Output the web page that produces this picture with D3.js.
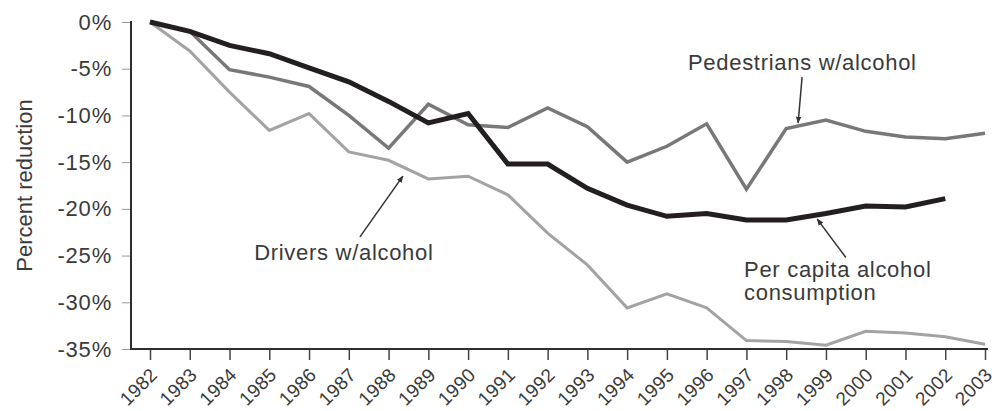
<!DOCTYPE html>
<html>
<head>
<meta charset="utf-8">
<script src="https://cdn.jsdelivr.net/npm/d3@7"></script>
<style>
  body { margin: 0; background: #fff; }
  svg text { font-family: "Liberation Sans", Arial, sans-serif; fill: #3a3a3a; }
</style>
</head>
<body>
<svg id="chart" width="998" height="411"></svg>
<script>
const years = d3.range(1982, 2004);
const yTicks = [0, -5, -10, -15, -20, -25, -30, -35];

const perCapita = [0, -1.0, -2.5, -3.4, -4.9, -6.4, -8.5, -10.8, -9.8, -15.2, -15.2,
  -17.8, -19.6, -20.8, -20.5, -21.2, -21.2, -20.5, -19.7, -19.8, -18.9];
const pedestrians = [0, -1.0, -5.1, -5.9, -6.9, -10.0, -13.5, -8.8, -11.0, -11.3, -9.2,
  -11.2, -15.0, -13.3, -10.9, -17.9, -11.4, -10.5, -11.7, -12.3, -12.5, -11.9];
const drivers = [0, -3.1, -7.5, -11.6, -9.8, -13.9, -14.8, -16.8, -16.5, -18.5, -22.6,
  -26.0, -30.6, -29.1, -30.6, -34.1, -34.2, -34.6, -33.1, -33.3, -33.7, -34.5];

const series = [
  { name: 'Drivers w/alcohol', values: drivers, color: '#a3a3a3', width: 3 },
  { name: 'Pedestrians w/alcohol', values: pedestrians, color: '#787878', width: 3.5 },
  { name: 'Per capita alcohol consumption', values: perCapita, color: '#231f20', width: 5 }
];

// annotation text + arrow, in data space (year, percent)
const notes = [
  { lines: ['Pedestrians w/alcohol'], at: [1995.53, -5.1], from: [1998.4, -5.9], to: [1998.3, -10.8] },
  { lines: ['Drivers w/alcohol'], at: [1984.62, -25.5], from: [1987.28, -23.0], to: [1988.36, -16.5] },
  { lines: ['Per capita alcohol', 'consumption'], at: [1996.94, -27.3], from: [1999.5, -25.2], to: [1998.78, -21.1] }
];

const svg = d3.select('#chart');
const margin = { top: 22, right: 13, bottom: 62, left: 131 };
const width = 998, height = 411;

const x = d3.scaleLinear().domain([1982, 2003]).range([150, 985]);
const y = d3.scaleLinear().domain([-35, 0]).range([height - margin.bottom, margin.top]);

svg.append('defs').append('marker')
  .attr('id', 'arrow')
  .attr('viewBox', '0 0 10 10')
  .attr('refX', 9).attr('refY', 5)
  .attr('markerWidth', 7).attr('markerHeight', 7)
  .attr('markerUnits', 'userSpaceOnUse')
  .attr('orient', 'auto')
  .append('path')
  .attr('d', 'M0,1 L10,5 L0,9 Z')
  .attr('fill', '#333');

// y axis
const yAxis = svg.append('g')
  .attr('transform', `translate(${margin.left},0)`)
  .call(d3.axisLeft(y).tickValues(yTicks).tickSize(9).tickPadding(10).tickFormat(d => d + '%'))
  .call(g => g.select('.domain').remove());
yAxis.selectAll('.tick line').attr('stroke', '#999').attr('stroke-width', 1);
yAxis.selectAll('.tick text')
  .attr('font-size', 22).attr('letter-spacing', '0.8px').attr('fill', '#3a3a3a')
  .style('font-family', '"Liberation Sans", Arial, sans-serif');
yAxis.append('line')
  .attr('y1', margin.top - 1).attr('y2', height - margin.bottom + 1)
  .attr('stroke', '#2e2e2e').attr('stroke-width', 2);

// x axis
const xAxis = svg.append('g')
  .attr('transform', `translate(0,${height - margin.bottom})`)
  .call(d3.axisBottom(x).tickValues(years).tickSize(11).tickFormat(d3.format('d')))
  .call(g => g.select('.domain').remove());
xAxis.selectAll('.tick line').attr('stroke', '#444').attr('stroke-width', 1.5);
xAxis.selectAll('.tick text')
  .attr('font-size', 19).attr('letter-spacing', '0.3px').attr('fill', '#3a3a3a')
  .style('font-family', '"Liberation Sans", Arial, sans-serif')
  .attr('text-anchor', 'end')
  .attr('dy', null).attr('y', 0)
  .attr('transform', 'translate(8,27) rotate(-45)');
xAxis.append('line')
  .attr('x1', margin.left).attr('x2', 988)
  .attr('stroke', '#2e2e2e').attr('stroke-width', 2);

// y label
svg.append('text')
  .attr('transform', `translate(32,${(margin.top + height - margin.bottom) / 2}) rotate(-90)`)
  .attr('text-anchor', 'middle')
  .attr('font-size', 22)
  .text('Percent reduction');

// lines
const line = d3.line()
  .x((d, i) => x(years[i]))
  .y(d => y(d));

svg.append('g')
  .selectAll('path')
  .data(series)
  .join('path')
  .attr('fill', 'none')
  .attr('stroke', d => d.color)
  .attr('stroke-width', d => d.width)
  .attr('stroke-linejoin', 'miter')
  .attr('d', d => line(d.values));

// annotations
const ann = svg.append('g');
notes.forEach(n => {
  ann.append('line')
    .attr('x1', x(n.from[0])).attr('y1', y(n.from[1]))
    .attr('x2', x(n.to[0])).attr('y2', y(n.to[1]))
    .attr('stroke', '#333').attr('stroke-width', 1.5)
    .attr('marker-end', 'url(#arrow)');
  const t = ann.append('text')
    .attr('x', x(n.at[0])).attr('y', y(n.at[1]))
    .attr('font-size', 22).attr('letter-spacing', '0.7px');
  n.lines.forEach((s, i) => {
    t.append('tspan').attr('x', x(n.at[0])).attr('dy', i === 0 ? 0 : 23).text(s);
  });
});
</script>
</body>
</html>
